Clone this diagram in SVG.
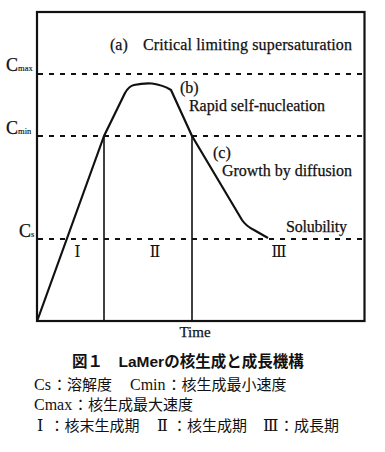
<svg xmlns="http://www.w3.org/2000/svg" width="385" height="452" viewBox="0 0 385 452">
<style>
.ser{font-family:"Liberation Serif","DejaVu Serif",serif;fill:#111;stroke:#111;stroke-width:0.25}
.lbl{font-size:16px}
.sub{font-size:8.5px;stroke-width:0.15}
.rom{font-family:"DejaVu Serif","Liberation Serif",serif;font-size:16px;fill:#111}
.cap{font-family:"Noto Sans CJK JP",sans-serif;font-size:15px;fill:#111}
.lat{font-family:"Liberation Serif",serif;font-size:16px;fill:#111}
.title{font-family:"Liberation Sans","Noto Sans CJK JP",sans-serif;font-size:15.5px;font-weight:bold;fill:#111}
.dash{stroke:#111;stroke-width:2;stroke-dasharray:5 6;fill:none}
.ln{stroke:#111;fill:none}
</style>
<rect width="385" height="452" fill="#fff"/>
<g id="frame">
<rect x="37" y="12" width="327.5" height="309" class="ln" stroke-width="2.2"/>
</g>
<g id="connectors">
<line x1="38" y1="74" x2="364" y2="74" class="dash"/>
<line x1="38" y1="136" x2="364" y2="136" class="dash"/>
<line x1="38" y1="239" x2="364" y2="239" class="dash"/>
<line x1="104" y1="136" x2="104" y2="321" class="ln" stroke-width="1.6"/>
<line x1="192" y1="136" x2="192" y2="321" class="ln" stroke-width="1.6"/>
<path d="M37.5,320 L104,136 L125,93 Q129,86 134,85 Q143,83 152,83.5 Q163,85 171,90 L192,136 L242,220 Q246,226 254,230 L268,238" class="ln" stroke-width="2.2" stroke-linejoin="round"/>
</g>
<g id="axis-labels">
<text class="ser" x="6" y="71" font-size="18">C<tspan class="sub">max</tspan></text>
<text class="ser" x="6" y="134" font-size="18">C<tspan class="sub">min</tspan></text>
<text class="ser" x="19" y="237" font-size="18">C<tspan class="sub">s</tspan></text>
<text class="ser" x="195" y="337" font-size="15" text-anchor="middle">Time</text>
</g>
<g id="label-a">
<text class="ser lbl" x="110" y="50">(a)</text>
<text class="ser lbl" x="143" y="50" textLength="209">Critical limiting supersaturation</text>
</g>
<g id="label-b">
<text class="ser lbl" x="180" y="93">(b)</text>
<text class="ser lbl" x="189" y="111" textLength="136">Rapid self-nucleation</text>
</g>
<g id="label-c">
<text class="ser lbl" x="213" y="158">(c)</text>
<text class="ser lbl" x="222" y="176" textLength="130">Growth by diffusion</text>
</g>
<g id="label-solubility">
<text class="ser lbl" x="286" y="232" textLength="61">Solubility</text>
</g>
<g id="stages">
<text class="rom" x="77.5" y="257" text-anchor="middle">Ⅰ</text>
<text class="rom" x="155" y="257" text-anchor="middle">Ⅱ</text>
<text class="rom" x="279" y="257" text-anchor="middle">Ⅲ</text>
</g>
<g id="caption">
<text class="title" x="72" y="367">図１　LaMerの核生成と成長機構</text>
<text class="lat" x="34" y="390">Cs</text>
<text class="cap" x="52" y="390">：溶解度</text>
<text class="lat" x="130" y="390">Cmin</text>
<text class="cap" x="166.5" y="390">：核生成最小速度</text>
<text class="lat" x="34" y="410">Cmax</text>
<text class="cap" x="73" y="410" font-size="15.5">：核生成最大速度</text>
<text class="rom" x="37" y="431">Ⅰ</text>
<text class="cap" x="49.5" y="431">：核末生成期</text>
<text class="rom" x="157" y="431">Ⅱ</text>
<text class="cap" x="172" y="431">：核生成期</text>
<text class="rom" x="263" y="431" font-size="13">Ⅲ</text>
<text class="cap" x="279" y="431">：成長期</text>
</g>
</svg>
